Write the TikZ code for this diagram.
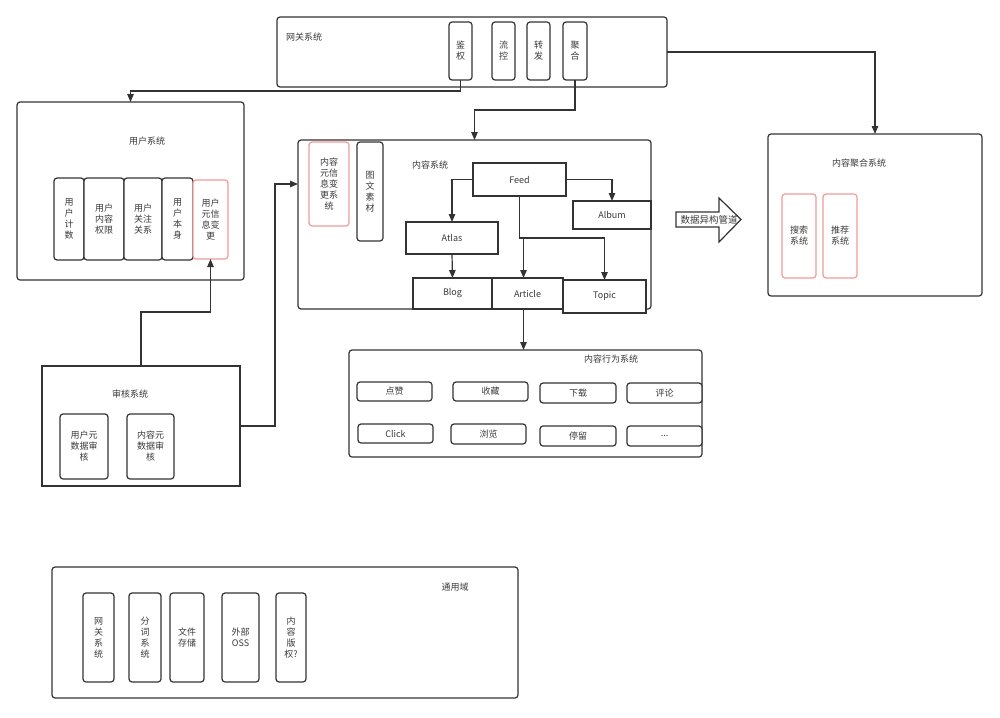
\documentclass[tikz,border=0pt]{standalone}
\usepackage{fontspec}
\setmainfont{Noto Sans CJK SC}
\usetikzlibrary{arrows.meta,calc}
\definecolor{lc}{HTML}{333333}
\definecolor{tc}{HTML}{3A3A3A}
\definecolor{rc}{HTML}{F29B9B}
% [style]{name}{x1}{y1}{x2}{y2}{text}
\newcommand\bx[7][]{\node[#1, minimum width={(#5-#3)*1pt}, minimum height={(#6-#4)*1pt}]
  (#2) at ({(#3+#5)/2},{(#4+#6)/2}) {#7};}
\begin{document}
\begin{tikzpicture}[x=1pt,y=-1pt,
  base/.style={draw=lc, line width=1.2pt, inner sep=0pt, outer sep=0pt, fill=white,
     text=tc, align=center, font=\fontsize{9}{11}\selectfont},
  rbox/.style={base, rounded corners=3pt},
  sbox/.style={base},
  redbox/.style={base, draw=rc, rounded corners=3pt},
  lbl/.style={text=tc, inner sep=0pt, font=\fontsize{9}{11}\selectfont},
  arr/.style={draw=lc, line width=1.2pt, -{Triangle[length=8pt,width=6.5pt]}},
  ln/.style={draw=lc, line width=1.2pt}]
\useasboundingbox (0,0) rectangle (1000,717);
\fill[white] (0,0) rectangle (1000,717);

% gateway
\bx[rbox]{gw}{277}{17}{667}{87}{}
\node[lbl, anchor=west] (gwl) at (286,37) {网关系统};
\bx[rbox]{jq}{449}{22}{472}{80}{鉴\\权}
\bx[rbox]{lk}{492}{22}{515}{80}{流\\控}
\bx[rbox]{zf}{527}{22}{550}{80}{转\\发}
\bx[rbox]{jh}{563}{22}{587}{80}{聚\\合}

% user system
\bx[rbox]{user}{17}{102}{244}{280}{}
\node[lbl] (userl) at (147,141) {用户系统};
\bx[rbox]{u1}{54}{178}{84}{260}{用\\户\\计\\数}
\bx[rbox]{u2}{84}{178}{124}{260}{用户\\内容\\权限}
\bx[rbox]{u3}{124}{178}{162}{260}{用户\\关注\\关系}
\bx[rbox]{u4}{162}{178}{193}{260}{用\\户\\本\\身}
\bx[redbox]{uchg}{193}{180}{228}{259}{用户\\元信\\息变\\更}

% content system
\bx[rbox]{content}{298}{140}{651}{309}{}
\node[lbl] (contl) at (430,165) {内容系统};
\bx[redbox]{cmeta}{309}{142}{349}{226}{内容\\元信\\息变\\更系\\统}
\bx[rbox]{tw}{357}{142}{383}{241}{图\\文\\素\\材}
\bx[sbox]{feed}{473}{163}{566}{196}{Feed}
\bx[sbox]{album}{573}{201}{651}{229}{Album}
\bx[sbox]{atlas}{406}{222}{498}{254}{Atlas}
\bx[sbox]{blog}{413}{278}{492}{309}{Blog}
\bx[sbox]{article}{492}{278}{563}{309}{Article}
\bx[sbox]{topic}{563}{280}{646}{313}{Topic}

% aggregation
\bx[rbox]{agg}{768}{134}{982}{296}{}
\node[lbl] (aggl) at (859,163) {内容聚合系统};
\bx[redbox]{search}{782}{194}{816}{278}{搜索\\系统}
\bx[redbox]{rec}{823}{194}{857}{278}{推荐\\系统}

% pipe arrow
\draw[draw=lc, line width=1.2pt, fill=white] (676,212) -- (719,212) -- (719,198) -- (741,219.5)
  -- (719,242) -- (719,227) -- (676,227) -- cycle;
\node[lbl, font=\fontsize{9.5}{11}\selectfont] (pipe) at (709,219.5) {数据异构管道};

% behaviour system
\bx[rbox]{beh}{349}{350}{702}{457}{}
\node[lbl] (behl) at (611,359) {内容行为系统};
\bx[rbox]{b1}{357}{382}{432}{401}{点赞}
\bx[rbox]{b2}{453}{382}{528}{401}{收藏}
\bx[rbox]{b3}{540}{383}{616}{403}{下载}
\bx[rbox]{b4}{627}{383}{702}{403}{评论}
\bx[rbox]{b5}{358}{424}{433}{443}{Click}
\bx[rbox]{b6}{451}{424}{526}{444}{浏览}
\bx[rbox]{b7}{540}{426}{616}{446}{停留}
\bx[rbox]{b8}{627}{426}{702}{446}{...}

% audit
\bx[sbox, line width=1.5pt]{audit}{42}{366}{240}{486}{}
\node[lbl] (audl) at (130,394) {审核系统};
\bx[rbox]{a1}{60}{414}{108}{479}{用户元\\数据审\\核}
\bx[rbox]{a2}{127}{414}{174}{479}{内容元\\数据审\\核}

% common domain
\bx[rbox]{com}{52}{567}{518}{698}{}
\node[lbl] (coml) at (455,587) {通用域};
\bx[rbox]{c1}{83}{593}{114}{682}{网\\关\\系\\统}
\bx[rbox]{c2}{129}{593}{161}{682}{分\\词\\系\\统}
\bx[rbox]{c3}{170}{593}{204}{682}{文件\\存储}
\bx[rbox]{c4}{222}{593}{259}{682}{外部\\OSS}
\bx[rbox]{c5}{276}{593}{306}{682}{内\\容\\版\\权?}

% connectors
\draw[arr] (jq.south) -- ++(0,11) -| (user.north);
\draw[arr] (jh.south) -- ++(0,30) -| (content.north);
\draw[arr] (gw.east) -| (agg.north);
\draw[arr] (audit.north) -- ++(0,-54) -| (uchg.south);
\draw[arr] (audit.east) -- ++(35,0) |- (content.west |- cmeta.center);
\draw[arr] (feed.west) -| (atlas.north);
\draw[arr] (feed.east) -| (album.north);
\draw[arr] (feed.south) -- ++(0,42) -| (topic.north);
\draw[arr] (feed.south) -- ++(0,42) -| ($(article.north)+(-4,0)$);
\draw[arr] (atlas.south) -- (blog.north);
\draw[arr] ($(article.south)+(-4,0)$) -- ($(article.south |- beh.north)+(-4,0)$);
\end{tikzpicture}
\end{document}
